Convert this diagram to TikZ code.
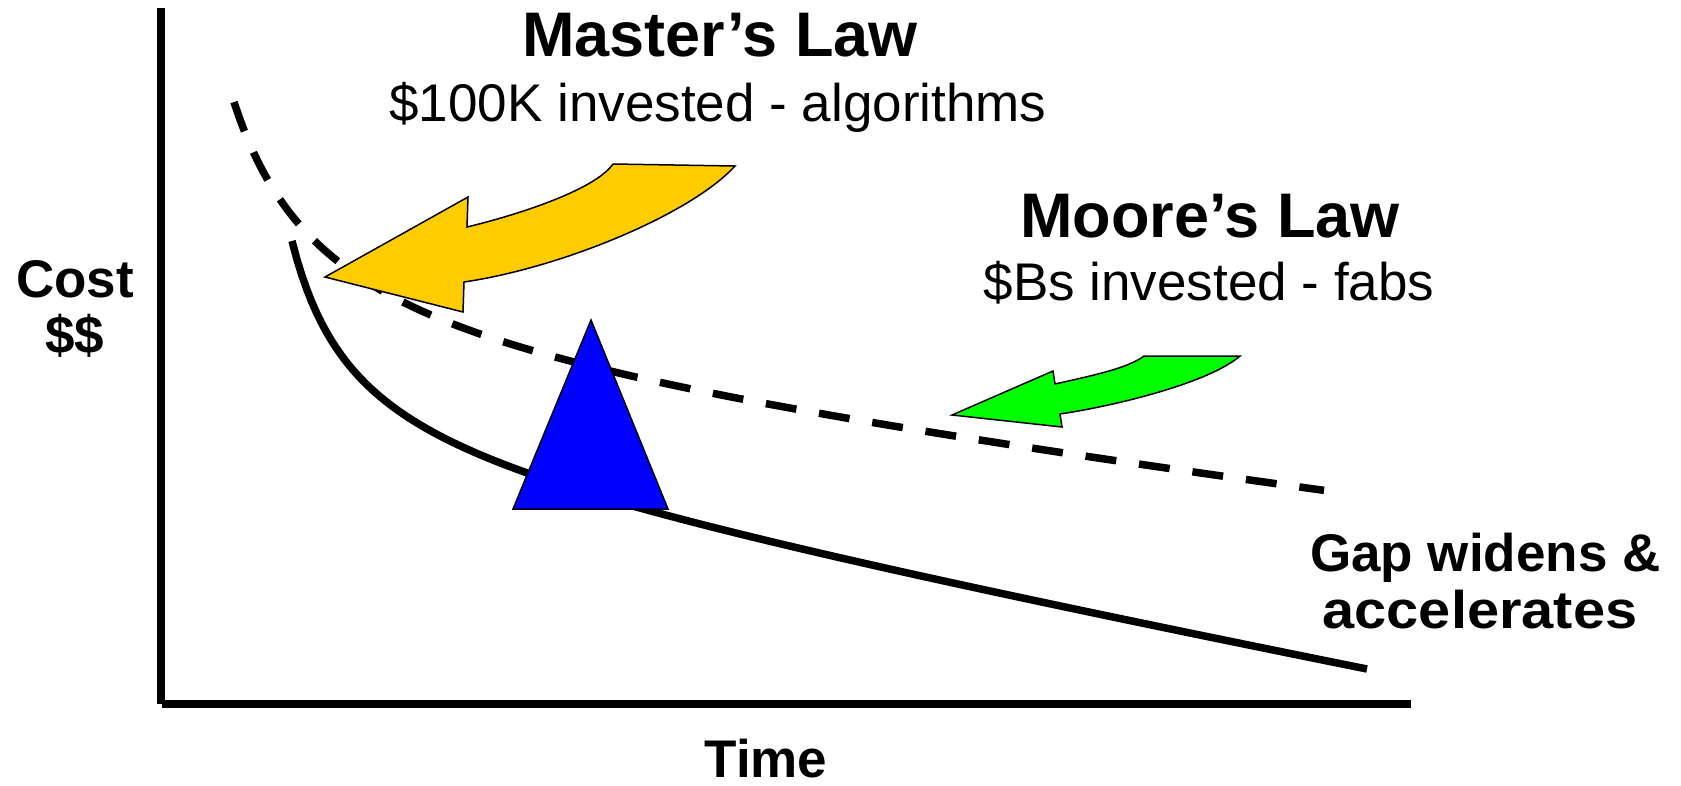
\documentclass[tikz,border=0pt]{standalone}
\usepackage{fontspec}
\setmainfont{Liberation Sans}
\definecolor{ygold}{HTML}{FFCC00}
\definecolor{bgreen}{HTML}{00FF00}
\definecolor{bblue}{HTML}{0000FF}
\begin{document}
\begin{tikzpicture}[x=1pt,y=-1pt,
  axisline/.style={line width=7.5pt},
  curveline/.style={line width=7.5pt},
  dashline/.style={line width=7.5pt, dash pattern=on 31pt off 23pt},
  bigtitle/.style={font=\fontsize{63}{70}\selectfont\bfseries, inner sep=0pt, anchor=base},
  subtitle/.style={font=\fontsize{53}{60}\selectfont, inner sep=0pt, anchor=base},
  axislabel/.style={font=\fontsize{53}{60}\selectfont\bfseries, inner sep=0pt, anchor=base},
  fatarrow/.style={draw=black, line width=1.5pt, line join=miter}]
\useasboundingbox (0,0) rectangle (1681,785);

% axes
\coordinate (ytop) at (161,8);
\coordinate (origin) at (161,704);
\coordinate (xstart) at (162,704);
\coordinate (xend) at (1411,704);
\draw[axisline] (ytop) -- (origin);
\draw[axisline] (xstart) -- (xend);

% Moore's law curve (dashed)
\draw[dashline] plot[domain=234:1324, samples=220]
  (\x, {102 + 0.12*(\x-234) + 279.79 - 263/((\x-140)/100)});

% Master's law curve (solid)
\draw[curveline] plot[domain=292:1367, samples=220]
  (\x, {241 + 0.19*(\x-292) + 236.66 - 146.73/((\x-230)/100)});

% yellow arrow
\draw[fatarrow, fill=ygold] (325,277) -- (468,197) -- (467,227)
  .. controls (517,215) and (595,190) .. (613,164)
  -- (735,166)
  .. controls (690,215) and (560,268) .. (464,282)
  -- (463,312) -- cycle;

% green arrow
\draw[fatarrow, fill=bgreen] (952,415) -- (1053,371) -- (1055,384)
  .. controls (1095,375) and (1128,368) .. (1144,356)
  -- (1240,356)
  .. controls (1210,382) and (1120,405) .. (1060,414)
  -- (1062,427) -- cycle;

% blue triangle
\draw[fatarrow, fill=bblue] (591,320) -- (513,509) -- (668,509) -- cycle;

% texts
\node[bigtitle] (master) at (720,56) {Master’s Law};
\node[subtitle] (mastersub) at (718,121) {\$100K invested - algorithms};
\node[bigtitle] (moore) at (1210,237) {Moore’s Law};
\node[subtitle] (mooresub) at (1209,300) {\$Bs invested - fabs};
\node[axislabel] (cost) at (75,297) {Cost};
\node[axislabel] (dollars) at (75,353) {\$\$};
\node[axislabel] (time) at (766,777) {Time};
\node[axislabel, anchor=base west] (gap1) at (1310,571) {Gap widens \&};
\node[axislabel] (gap2) at (1480,628) {\scalebox{1.09}[1]{accelerates}};
\end{tikzpicture}
\end{document}
